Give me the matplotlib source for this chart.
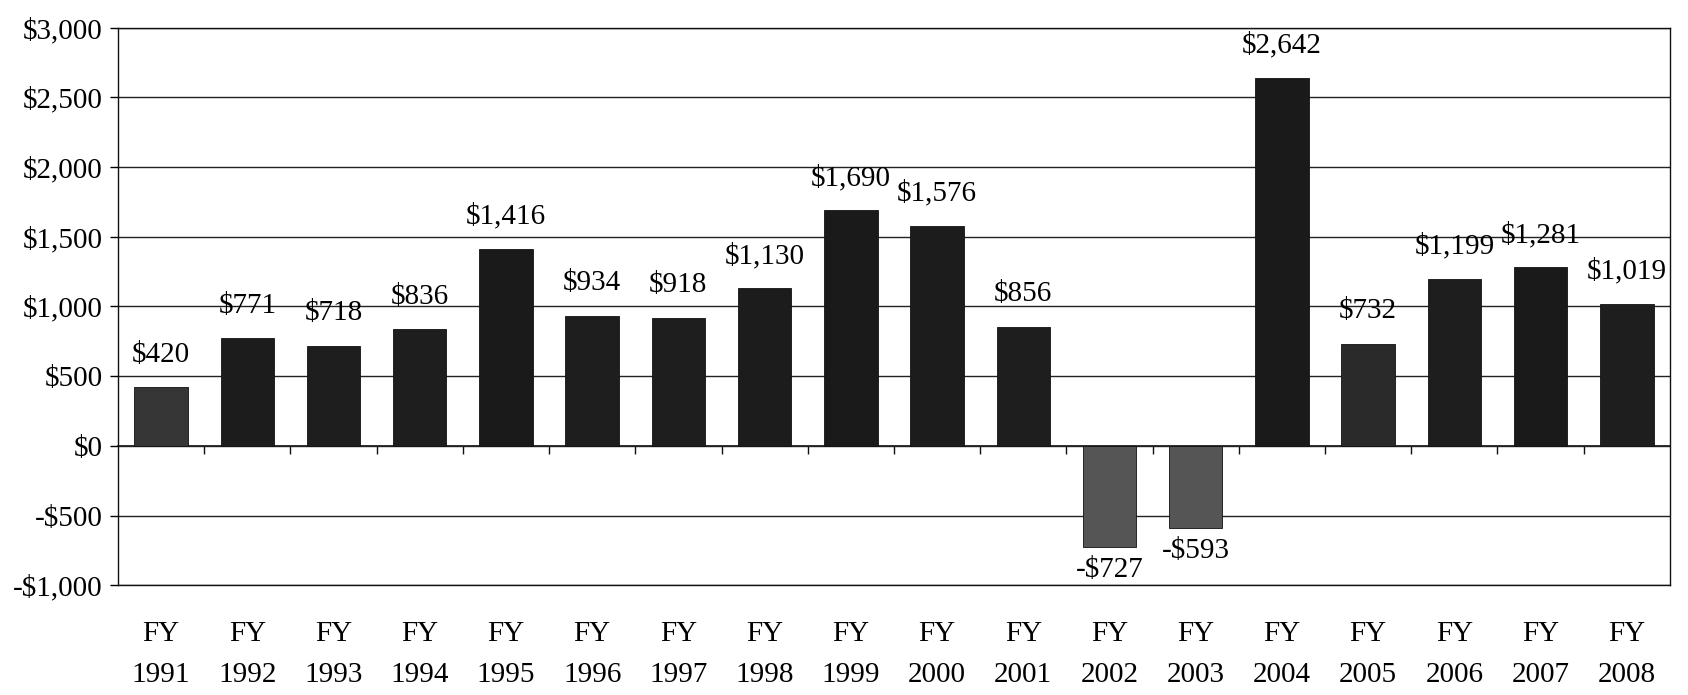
import matplotlib
matplotlib.use("Agg")
import matplotlib.pyplot as plt
from matplotlib.ticker import FuncFormatter, MultipleLocator

# Fiscal years and values (millions of dollars)
years = ["1991", "1992", "1993", "1994", "1995", "1996", "1997", "1998", "1999",
         "2000", "2001", "2002", "2003", "2004", "2005", "2006", "2007", "2008"]
values = [420, 771, 718, 836, 1416, 934, 918, 1130, 1690,
          1576, 856, -727, -593, 2642, 732, 1199, 1281, 1019]
bar_colors = ["#363636", "#1c1c1c", "#1e1e1e", "#1e1e1e", "#1a1a1a", "#1e1e1e",
              "#1e1e1e", "#1c1c1c", "#1a1a1a", "#1c1c1c", "#1e1e1e", "#555555",
              "#555555", "#1a1a1a", "#2a2a2a", "#1e1e1e", "#1a1a1a", "#1e1e1e"]

plt.rcParams["font.family"] = ["Liberation Serif", "DejaVu Serif"]


def money(v, pos=None):
    if v < 0:
        return f"-${abs(v):,.0f}"
    return f"${v:,.0f}"


def main():
    fig = plt.figure(figsize=(16.88, 6.95), dpi=100)
    ax = fig.add_axes([0.0699, 0.158, 0.9194, 0.802])

    x = list(range(len(years)))
    bars = ax.bar(x, values, width=0.62, color=bar_colors, edgecolor="#111111",
                  linewidth=0.6, zorder=3)

    for rect, v in zip(bars, values):
        cx = rect.get_x() + rect.get_width() / 2
        if v >= 0:
            ax.annotate(money(v), (cx, v), xytext=(0, 14), textcoords="offset points",
                        ha="center", va="bottom", fontsize=21, zorder=4)
        else:
            ax.annotate(money(v), (cx, v), xytext=(0, -7), textcoords="offset points",
                        ha="center", va="top", fontsize=21, zorder=4)

    ax.set_xlim(-0.5, len(years) - 0.5)
    ax.set_ylim(-1000, 3000)
    ax.yaxis.set_major_locator(MultipleLocator(500))
    ax.yaxis.set_major_formatter(FuncFormatter(money))
    ax.grid(axis="y", color="#222222", linewidth=1.0, zorder=0)
    ax.set_axisbelow(True)

    ax.set_xticks(x)
    ax.set_xticklabels([f"FY\n{y}" for y in years], linespacing=1.75)
    ax.tick_params(axis="x", length=0, pad=26, labelsize=21)
    ax.tick_params(axis="y", direction="out", length=6, width=1, pad=5, labelsize=21)

    for s in ax.spines.values():
        s.set_color("#111111")
        s.set_linewidth(1.0)

    # category axis crossing at zero, ticks at category boundaries
    zero_axis = ax.secondary_xaxis(0, transform=ax.transData)
    zero_axis.set_xticks([i + 0.5 for i in x[:-1]])
    zero_axis.set_xticklabels([])
    zero_axis.tick_params(direction="out", length=6, width=1, color="#111111")
    zero_axis.spines["bottom"].set_color("#111111")
    zero_axis.spines["bottom"].set_linewidth(1.2)

    fig.savefig("out.png", dpi=100)


if __name__ == "__main__":
    main()
